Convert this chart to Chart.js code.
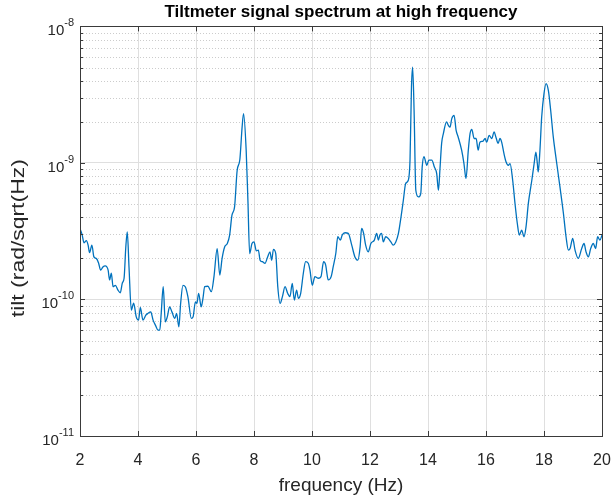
<!DOCTYPE html>
<html>
<head>
<meta charset="utf-8">
<script src="https://cdn.jsdelivr.net/npm/chart.js@4.4.1/dist/chart.umd.min.js"></script>
<style>
    html, body { margin: 0; padding: 0; background: #fff; }
    #wrap { width: 612px; height: 498px; }
</style>
</head>
<body>
<div id="wrap"><canvas id="spectrumChart" width="612" height="498"></canvas></div>
<script>
// frequency (Hz)
const frequency = [
    2.00, 2.07, 2.14, 2.22, 2.28, 2.33, 2.41, 2.48, 2.56, 2.64,
    2.71, 2.79, 2.87, 2.97, 3.02, 3.08, 3.14, 3.22, 3.31, 3.39,
    3.46, 3.52, 3.58, 3.63, 3.69, 3.77, 3.85, 3.94, 4.02, 4.08,
    4.17, 4.27, 4.34, 4.44, 4.52, 4.60, 4.69, 4.75, 4.80, 4.87,
    4.94, 5.01, 5.09, 5.17, 5.27, 5.33, 5.41, 5.47, 5.55, 5.63,
    5.72, 5.84, 5.90, 5.98, 6.03, 6.09, 6.18, 6.24, 6.30, 6.41,
    6.53, 6.62, 6.73, 6.82, 6.90, 6.99, 7.08, 7.16, 7.24, 7.33,
    7.42, 7.51, 7.59, 7.64, 7.73, 7.79, 7.85, 7.93, 8.00, 8.08,
    8.15, 8.21, 8.29, 8.38, 8.47, 8.55, 8.61, 8.67, 8.75, 8.82,
    8.90, 8.98, 9.07, 9.16, 9.24, 9.32, 9.39, 9.47, 9.53, 9.61,
    9.70, 9.78, 9.87, 9.93, 10.01, 10.10, 10.22, 10.31, 10.40, 10.47,
    10.56, 10.66, 10.73, 10.82, 10.89, 10.98, 11.04, 11.14, 11.25, 11.37,
    11.48, 11.58, 11.66, 11.71, 11.78, 11.85, 11.94, 12.03, 12.15, 12.23,
    12.29, 12.34, 12.40, 12.46, 12.54, 12.63, 12.72, 12.80, 12.89, 12.98,
    13.07, 13.15, 13.23, 13.32, 13.38, 13.43, 13.47, 13.52, 13.58, 13.67,
    13.75, 13.80, 13.86, 13.96, 14.03, 14.13, 14.22, 14.30, 14.36, 14.41,
    14.47, 14.53, 14.64, 14.70, 14.76, 14.82, 14.90, 14.97, 15.04, 15.16,
    15.24, 15.31, 15.39, 15.45, 15.51, 15.59, 15.66, 15.73, 15.79, 15.89,
    15.97, 16.02, 16.11, 16.20, 16.28, 16.34, 16.42, 16.48, 16.54, 16.62,
    16.69, 16.77, 16.83, 16.92, 17.00, 17.08, 17.15, 17.23, 17.31, 17.38,
    17.46, 17.58, 17.66, 17.72, 17.77, 17.80, 17.86, 17.92, 18.00, 18.07,
    18.15, 18.23, 18.32, 18.44, 18.55, 18.67, 18.76, 18.84, 18.90, 18.99,
    19.07, 19.18, 19.30, 19.38, 19.45, 19.53, 19.61, 19.70, 19.78, 19.85,
    19.93, 20.00
];

// tilt (rad/sqrt(Hz)), same order
const tilt = [
    3.3e-10, 3.0e-10, 2.6e-10, 2.7e-10, 2.5e-10, 2.2e-10, 2.5e-10, 2.05e-10, 2.0e-10, 1.85e-10,
    1.64e-10, 1.73e-10, 1.76e-10, 1.64e-10, 1.39e-10, 1.56e-10, 1.24e-10, 1.27e-10, 1.17e-10, 1.12e-10,
    1.32e-10, 1.43e-10, 2.43e-10, 3.13e-10, 1.73e-10, 8.35e-11, 9.4e-11, 7.46e-11, 7.06e-11, 8.74e-11,
    7.06e-11, 7.67e-11, 7.9e-11, 8.11e-11, 7.06e-11, 6.49e-11, 5.96e-11, 5.96e-11, 7.9e-11, 1.24e-10,
    6.86e-11, 7.46e-11, 8.83e-11, 8.11e-11, 7.26e-11, 7.9e-11, 6.31e-11, 9.35e-11, 1.27e-10, 1.24e-10,
    1.05e-10, 7.26e-11, 7.46e-11, 9.6e-11, 9.35e-11, 1.11e-10, 8.83e-11, 1.02e-10, 1.24e-10, 1.25e-10,
    1.14e-10, 1.47e-10, 2.36e-10, 1.51e-10, 2.0e-10, 2.43e-10, 2.57e-10, 2.96e-10, 4.14e-10, 4.77e-10,
    8.84e-10, 1.05e-9, 1.83e-9, 2.3e-9, 1.24e-9, 5.33e-10, 2.17e-10, 2.57e-10, 2.64e-10, 2.27e-10,
    2.3e-10, 1.94e-10, 1.89e-10, 1.84e-10, 2.05e-10, 2.23e-10, 1.94e-10, 2.33e-10, 2.17e-10, 1.24e-10,
    9.35e-11, 1.05e-10, 1.24e-10, 1.11e-10, 1.05e-10, 1.31e-10, 9.89e-11, 1.17e-10, 1.02e-10, 1.11e-10,
    1.55e-10, 1.89e-10, 1.84e-10, 1.64e-10, 1.27e-10, 1.47e-10, 1.43e-10, 1.47e-10, 1.89e-10, 1.79e-10,
    1.39e-10, 1.47e-10, 1.73e-10, 2.17e-10, 2.88e-10, 2.72e-10, 2.96e-10, 3.08e-10, 3.05e-10, 2.5e-10,
    2.05e-10, 1.94e-10, 2.43e-10, 3.31e-10, 3.05e-10, 2.5e-10, 2.23e-10, 2.57e-10, 2.72e-10, 3.05e-10,
    2.72e-10, 2.96e-10, 3.05e-10, 2.64e-10, 2.88e-10, 2.8e-10, 2.64e-10, 2.5e-10, 2.64e-10, 3.05e-10,
    4.03e-10, 5.33e-10, 7.07e-10, 7.47e-10, 1.05e-9, 3.6e-9, 5.04e-9, 2.43e-9, 6.31e-10, 5.64e-10,
    5.97e-10, 9.35e-10, 1.11e-9, 9.62e-10, 1.05e-9, 1.05e-9, 9.35e-10, 8.36e-10, 6.31e-10, 8.84e-10,
    1.39e-9, 1.64e-9, 2.0e-9, 1.89e-9, 1.83e-9, 2.11e-9, 2.23e-9, 1.73e-9, 1.55e-9, 1.24e-9,
    9.9e-10, 7.69e-10, 1.24e-9, 1.64e-9, 1.76e-9, 1.51e-9, 1.51e-9, 1.24e-9, 1.42e-9, 1.44e-9,
    1.51e-9, 1.42e-9, 1.59e-9, 1.51e-9, 1.69e-9, 1.55e-9, 1.39e-9, 1.51e-9, 1.42e-9, 1.17e-9,
    1.02e-9, 9.6e-10, 9.9e-10, 7.47e-10, 5.05e-10, 3.6e-10, 2.96e-10, 3.22e-10, 2.88e-10, 3.4e-10,
    5.05e-10, 7.47e-10, 9.9e-10, 1.2e-9, 9.9e-10, 8.59e-10, 1.24e-9, 2.17e-9, 3.22e-9, 3.81e-9,
    3.4e-9, 2.43e-9, 1.55e-9, 9.9e-10, 6.67e-10, 4.26e-10, 2.88e-10, 2.3e-10, 2.36e-10, 2.8e-10,
    2.3e-10, 2.0e-10, 2.36e-10, 2.57e-10, 2.23e-10, 2.05e-10, 2.36e-10, 2.57e-10, 2.36e-10, 2.88e-10,
    2.72e-10, 2.96e-10
];

// axis ticks
const xTicks = [2, 4, 6, 8, 10, 12, 14, 16, 18, 20];
const yDecades = [1e-11, 1e-10, 1e-9, 1e-8];
const yExponents = ['-11', '-10', '-9', '-8'];
const yTitle = 'tilt (rad/sqrt(Hz)';

const FONT = '"Liberation Sans", Arial, Helvetica, sans-serif';
const TEXT = '#262626';
const GRID = '#dfdfdf';

function isDecade(v) {
    const l = Math.log10(v);
    return Math.abs(l - Math.round(l)) < 1e-6;
}

// MATLAB-like frame: dotted minor grid, box, inward ticks, 10^n labels
const matlabFrame = {
    id: 'matlabFrame',
    beforeDatasetsDraw(chart) {
        const { ctx, chartArea: a, scales: { y } } = chart;
        ctx.save();
        ctx.strokeStyle = '#cccccc';
        ctx.lineWidth = 1;
        ctx.setLineDash([1, 2]);
        yDecades.slice(0, -1).forEach(d => {
            for (let k = 2; k <= 9; k++) {
                const py = Math.round(y.getPixelForValue(k * d)) + 0.5;
                ctx.beginPath();
                ctx.moveTo(a.left, py);
                ctx.lineTo(a.right, py);
                ctx.stroke();
            }
        });
        ctx.restore();
    },
    afterDatasetsDraw(chart) {
        const { ctx, chartArea: a, scales: { x, y } } = chart;
        ctx.save();
        ctx.strokeStyle = '#3a3a3a';
        ctx.lineWidth = 1;
        ctx.strokeRect(Math.round(a.left) + 0.5, Math.round(a.top) + 0.5,
            Math.round(a.right - a.left), Math.round(a.bottom - a.top));

        // ticks on x (bottom and top)
        ctx.beginPath();
        xTicks.forEach(t => {
            const px = Math.round(x.getPixelForValue(t)) + 0.5;
            ctx.moveTo(px, a.bottom); ctx.lineTo(px, a.bottom - 5);
            ctx.moveTo(px, a.top); ctx.lineTo(px, a.top + 5);
        });
        // ticks on y (left and right), minor ones shorter
        yDecades.forEach((d, i) => {
            for (let k = 1; k <= 9; k++) {
                if (i === yDecades.length - 1 && k > 1) break;
                const py = Math.round(y.getPixelForValue(k * d)) + 0.5;
                const len = k === 1 ? 5 : 3;
                ctx.moveTo(a.left, py); ctx.lineTo(a.left + len, py);
                ctx.moveTo(a.right, py); ctx.lineTo(a.right - len, py);
            }
        });
        ctx.stroke();

        // y labels as 10 with superscript exponent
        ctx.fillStyle = TEXT;
        yDecades.forEach((d, i) => {
            const py = y.getPixelForValue(d);
            const rightEdge = a.left - 6;
            ctx.font = '11px ' + FONT;
            ctx.textAlign = 'right';
            ctx.textBaseline = 'alphabetic';
            const w = ctx.measureText(yExponents[i]).width;
            ctx.fillText(yExponents[i], rightEdge, py);
            ctx.font = '15px ' + FONT;
            ctx.fillText('10', rightEdge - w, py + 9);
        });

        // y title, a bit stretched along its length like the scanned figure
        ctx.font = '19px ' + FONT;
        ctx.textAlign = 'center';
        ctx.textBaseline = 'middle';
        const natural = ctx.measureText(yTitle).width;
        ctx.translate(19, (a.top + a.bottom) / 2 + 7);
        ctx.rotate(-Math.PI / 2);
        ctx.scale(158 / natural, 1);
        ctx.fillText(yTitle, 0, 0);
        ctx.restore();
    }
};

const ctx = document.getElementById('spectrumChart').getContext('2d');

new Chart(ctx, {
    type: 'line',
    data: {
        datasets: [{
            data: frequency.map((f, i) => ({ x: f, y: tilt[i] })),
            borderColor: '#0072BD',
            borderWidth: 1.3,
            pointRadius: 0,
            cubicInterpolationMode: 'monotone',
            fill: false
        }]
    },
    options: {
        responsive: false,
        animation: false,
        layout: { padding: { left: 0, right: 10, top: 0, bottom: 0 } },
        plugins: {
            legend: { display: false },
            tooltip: { enabled: false },
            title: {
                display: true,
                fullSize: false,
                text: 'Tiltmeter signal spectrum at high frequency',
                color: '#000',
                font: { family: FONT, size: 17, weight: 'bold' },
                padding: { top: 2, bottom: 4 }
            }
        },
        scales: {
            x: {
                type: 'linear',
                min: 2,
                max: 20,
                afterBuildTicks: scale => {
                    scale.ticks = xTicks.map(v => ({ value: v }));
                },
                afterFit: scale => {
                    scale.height = 62;
                    scale.paddingLeft = 0;
                    scale.paddingRight = 0;
                },
                ticks: {
                    color: TEXT,
                    font: { family: FONT, size: 16 },
                    padding: 15,
                    maxRotation: 0
                },
                grid: { color: GRID, drawTicks: false },
                border: { display: false },
                title: {
                    display: true,
                    text: 'frequency (Hz)',
                    color: TEXT,
                    font: { family: FONT, size: 19 },
                    padding: { top: 2, bottom: 1 }
                }
            },
            y: {
                type: 'logarithmic',
                min: 1e-11,
                max: 1e-8,
                afterFit: scale => { scale.width = 80; },
                ticks: { display: false },
                grid: {
                    drawTicks: false,
                    color: c => (c.tick && isDecade(c.tick.value)) ? GRID : 'rgba(0,0,0,0)'
                },
                border: { display: false }
            }
        }
    },
    plugins: [matlabFrame]
});
</script>
</body>
</html>
